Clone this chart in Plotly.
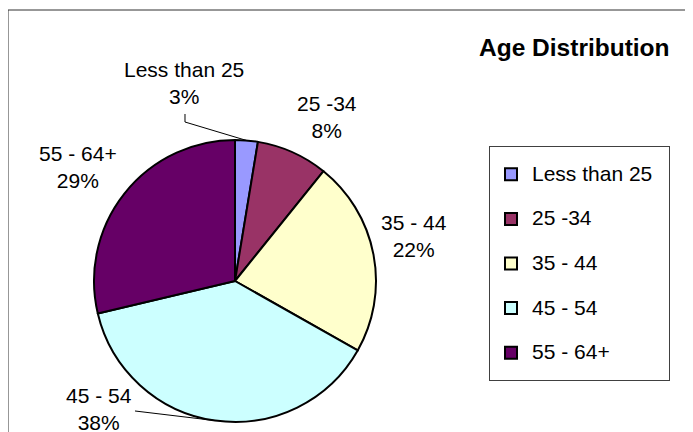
import math
import plotly.graph_objects as go

# ---- data ----
categories = ["Less than 25", "25 -34", "35 - 44", "45 - 54", "55 - 64+"]
values = [2.6, 8.2, 22.4, 38.1, 28.7]
colors = ["#9999FF", "#993366", "#FFFFCC", "#CCFFFF", "#660066"]
chart_title = "Age Distribution"

W, H = 693, 432
OFF = 8  # page body margin offset
FONT = "Arial, 'Liberation Sans', sans-serif"
LBL = 21

# pie geometry in (page) pixels
cx, cy, r = 235, 281, 141

def px(x):
    return (x - OFF) / W

def py(y):
    return 1 - (y - OFF) / H

total = sum(values)
pcts = [round(v / total * 100) for v in values]

legend_labels = [
    f'<span style="font-size:{LBL}px;baseline-shift:6px">{c}&nbsp;&nbsp;</span>'
    for c in categories
]

fig = go.Figure(
    go.Pie(
        labels=legend_labels,
        values=values,
        sort=False,
        direction="clockwise",
        rotation=0,
        marker=dict(colors=colors, line=dict(color="black", width=2)),
        textinfo="none",
        hoverinfo="skip",
        domain=dict(x=[px(cx - r), px(cx + r)], y=[py(cy + r), py(cy - r)]),
    )
)

label_pos = [(184, 83), (327, 117), (414, 236), (99, 409), (78, 167)]
leader_start = {0: [(185, 114), (185, 122)], 3: [(135, 411)]}

annotations = []
shapes = []
cum = 0.0
for i, (c, v) in enumerate(zip(categories, values)):
    mid = (cum + v / 2) / total * 2 * math.pi
    cum += v
    text = f"{c}<br>{pcts[i]}%"
    lx, ly = label_pos[i]
    annotations.append(dict(
        x=px(lx), y=py(ly), xref="paper", yref="paper",
        xanchor="center", yanchor="middle",
        text=text, showarrow=False,
        font=dict(family=FONT, size=LBL, color="black"),
        align="center",
    ))
    if i in leader_start:
        endx = cx + r * math.sin(mid)
        endy = cy - r * math.cos(mid)
        pts = leader_start[i] + [(endx, endy)]
        path = "M " + " L ".join(f"{px(a):.5f},{py(b):.5f}" for a, b in pts)
        shapes.append(dict(type="path", xref="paper", yref="paper", path=path,
                           line=dict(color="black", width=1)))

annotations.append(dict(
    x=px(672), y=py(48), xref="paper", yref="paper",
    xanchor="right", yanchor="middle", showarrow=False,
    text=f"<b>{chart_title}</b>",
    font=dict(family=FONT, size=24.5, color="black"),
))

shapes.append(dict(
    type="rect", xref="paper", yref="paper",
    x0=px(8), x1=px(690), y0=py(460), y1=py(10),
    line=dict(color="#303030", width=1), fillcolor="rgba(0,0,0,0)",
    layer="below",
))

fig.update_layout(
    width=W, height=H,
    margin=dict(l=0, r=0, t=0, b=0),
    paper_bgcolor="white",
    plot_bgcolor="white",
    showlegend=True,
    legend=dict(
        x=px(489), y=py(146), xanchor="left", yanchor="top",
        xref="paper", yref="paper",
        bgcolor="white", bordercolor="#404040", borderwidth=1,
        font=dict(family=FONT, size=32, color="black"),
        traceorder="normal",
        itemwidth=32,
    ),
    annotations=annotations,
    shapes=shapes,
)

fig.write_html("out.html")
